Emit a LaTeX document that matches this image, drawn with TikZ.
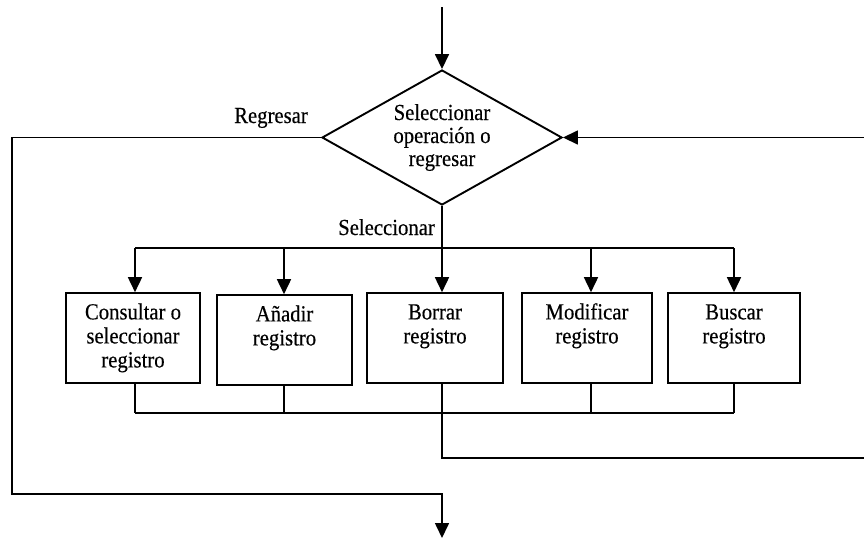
\documentclass[tikz,border=0pt]{standalone}
\usepackage{fontspec}
\setmainfont{Liberation Serif}[FakeStretch=0.9,FakeBold=0.4]
\usetikzlibrary{shapes.geometric,arrows.meta}
% fixed-height strut so every box text starts on the same baseline
\newcommand\topstrut{\rule{0pt}{21pt}}

\begin{document}
\begin{tikzpicture}[x=1pt,y=-1pt,
  flow/.style={line width=1.6pt},
  arr/.style={flow,-{Triangle[length=15pt,width=14pt]}},
  box/.style={draw,line width=1.6pt,minimum height=90pt,inner sep=0pt},
  boxtext/.style={align=center,anchor=north,inner sep=0pt,yshift=-6pt,
                  font=\fontsize{23}{24}\selectfont},
  decision/.style={draw,diamond,aspect=1.78,line width=1.9pt,
                   minimum width=240pt,minimum height=135pt,inner sep=0pt,
                   align=center,font=\fontsize{23}{23}\selectfont},
  tag/.style={font=\fontsize{23}{24}\selectfont,inner sep=0pt}]
\useasboundingbox (0,0) rectangle (864,539);

% decision
\node[decision] (d) at (442,137.5) {Seleccionar\\operación o\\regresar};
\coordinate (in) at (442,7);
\draw[arr] (in) -- (d.north);

% loop back from the operations
\coordinate (rin) at (864,137.5);
\draw[arr] (rin) -- (d.east);

% exit path
\coordinate (lt) at (12,137.5);
\coordinate (lb) at (12,494);
\coordinate (ob) at (442,494);
\coordinate (out) at (442,538);
\draw[arr] (d.west) -- (lt) -- (lb) -- (ob) -- (out);
\node[tag,anchor=base] (lreg) at (271,123) {Regresar};

% operation boxes
\node[box,minimum width=134pt,
  label={[boxtext]north:\topstrut Consultar o\\seleccionar\\registro}] (b1) at (133,338) {};
\node[box,minimum width=135pt,
  label={[boxtext]north:\topstrut Añadir\\registro}] (b2) at (284.5,340) {};
\node[box,minimum width=136pt,
  label={[boxtext]north:\topstrut Borrar\\registro}] (b3) at (435,338) {};
\node[box,minimum width=130pt,
  label={[boxtext]north:\topstrut Modificar\\registro}] (b4) at (587,338) {};
\node[box,minimum width=132pt,
  label={[boxtext]north:\topstrut Buscar\\registro}] (b5) at (734,338) {};

% fan-out to the operations
\coordinate (s) at (442,248);
\draw[flow] (d.south) -- (s);
\node[tag,anchor=base east] (lsel) at (435,235) {Seleccionar};
\foreach \b/\x in {b1/135,b2/284,b3/442,b4/591,b5/734} {
  \coordinate (t\b) at (\x,248);
  \coordinate (u\b) at (\x,413);
  \draw[arr] (t\b) -- (t\b |- \b.north);
  \draw[flow] (u\b |- \b.south) -- (u\b);
}
\draw[flow] (tb1) -- (tb5);

% fan-in and return to the decision
\draw[flow] (ub1) -- (ub5);
\coordinate (rb) at (442,458);
\coordinate (rend) at (864,458);
\draw[flow] (ub3) -- (rb) -- (rend);
\end{tikzpicture}
\end{document}
